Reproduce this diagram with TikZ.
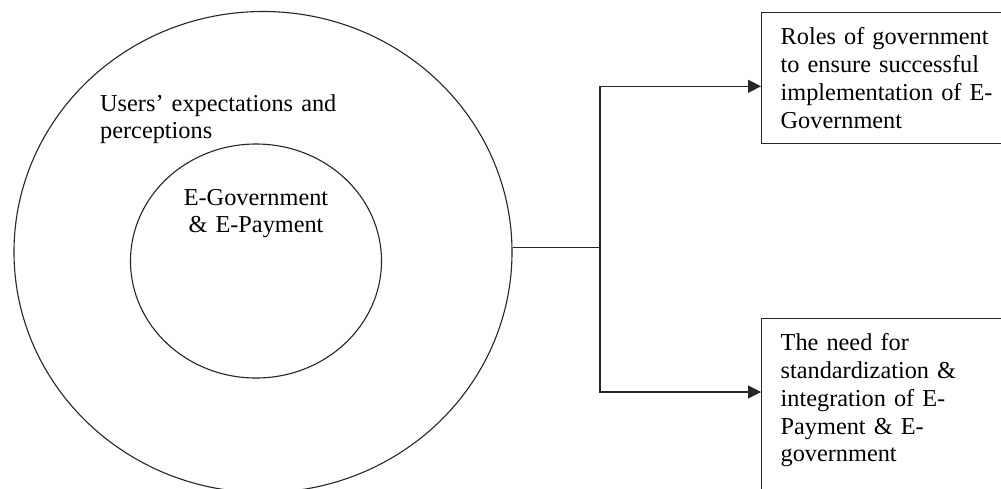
\documentclass[tikz,border=0pt]{standalone}
\usepackage{fontspec}
\setmainfont{Liberation Serif}
\usetikzlibrary{arrows.meta,shapes.geometric,calc}
\begin{document}
\begin{tikzpicture}[x=1pt,y=-1pt,
  every node/.style={font=\fontsize{24.3}{27.8}\selectfont},
  ring/.style={draw=black!85, line width=1.1pt, ellipse, inner sep=0pt},
  textbox/.style={draw=black!85, line width=1.3pt, anchor=north west, inner xsep=19pt, inner ysep=0pt,
    text width=230pt, align=left, text height=32pt},
  conn/.style={draw=black!85, line width=1.3pt},
  tip/.style={-{Triangle[length=13pt,width=13pt]}}]
\clip (0,0) rectangle (1001,488);
\fill[white] (0,0) rectangle (1001,488);
\node[ring, minimum width=498pt, minimum height=481pt] (outer) at (263,252) {};
\node[ring, minimum width=251pt, minimum height=234pt] (inner) at (256,261) {};
\node[anchor=base west, text width=300pt, align=left, inner sep=0pt] (users) at (100,111)
  {Users’ expectations and\\perceptions};
\node[anchor=base, text width=220pt, align=center, inner sep=0pt] (egov) at (256,205)
  {E-Government\\\& E-Payment};
\node[textbox, text depth=99pt] (box1) at (761,12)
  {Roles of government\\to ensure successful\\implementation of E-\\Government};
\node[textbox, text depth=200pt] (box2) at (761,318)
  {The need for\\standardization \&\\integration of E-\\Payment \& E-\\government};
\coordinate (j) at (600,245);
\draw[conn] (outer.1.7) -- (outer.1.7 -| j);
\draw[conn, tip] (outer.1.7 -| j) |- ([yshift=58pt]box1.south west);
\draw[conn, tip] (outer.1.7 -| j) |- ([yshift=-74pt]box2.north west);
\end{tikzpicture}
\end{document}
